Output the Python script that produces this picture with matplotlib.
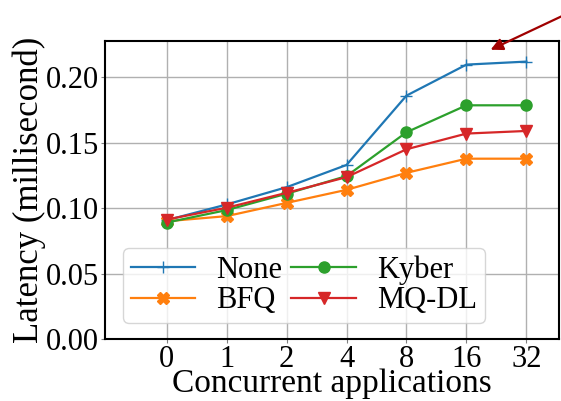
import matplotlib
matplotlib.use("Agg")
import matplotlib.pyplot as plt
import numpy as np

# concurrent applications (categorical x axis)
apps = ["0", "1", "2", "4", "8", "16", "32"]

# latency in milliseconds
lat_none = [0.0908, 0.1028, 0.1160, 0.1330, 0.1860, 0.2097, 0.2120]
lat_bfq = [0.0900, 0.0939, 0.1040, 0.1140, 0.1270, 0.1378, 0.1378]
lat_kyber = [0.0890, 0.0985, 0.1110, 0.1245, 0.1580, 0.1786, 0.1786]
lat_mqdl = [0.0913, 0.1003, 0.1117, 0.1237, 0.1450, 0.1570, 0.1590]

plt.rcParams['font.family'] = ['Liberation Serif', 'DejaVu Serif']
plt.rcParams['font.size'] = 22

fig = plt.figure(figsize=(5.61, 4.01), dpi=100)
ax = fig.add_axes([0.187, 0.1546, 0.809, 0.744])

x = np.arange(len(apps))
ax.plot(x, lat_none, color='tab:blue', marker='+', markersize=9, lw=1.6, label='None')
ax.plot(x, lat_bfq, color='tab:orange', marker='X', markersize=8, lw=1.6, label='BFQ')
ax.plot(x, lat_kyber, color='tab:green', marker='o', markersize=8, lw=1.6, label='Kyber')
ax.plot(x, lat_mqdl, color='tab:red', marker='v', markersize=8, lw=1.6, label='MQ-DL')

ax.set_xticks(x)
ax.set_xticklabels(apps)
ax.set_yticks([0.0, 0.05, 0.10, 0.15, 0.20])
ax.set_yticklabels(["0.00", "0.05", "0.10", "0.15", "0.20"])
ax.set_xlim(-1.03, 6.54)
ax.set_ylim(0, 0.228)
ax.grid(True, color='#b0b0b0', lw=1.0)
ax.set_axisbelow(True)
for s in ax.spines.values():
    s.set_linewidth(1.5)
ax.tick_params(axis='both', length=3, pad=1, color='#808080')

xl = ax.set_xlabel("Concurrent applications", fontsize=24)
xl.set_verticalalignment('baseline')
ax.xaxis.set_label_coords(0.5, -0.178)
ax.set_ylabel("Latency (millisecond)", fontsize=25, labelpad=0)

ax.legend(ncol=2, loc='lower left', bbox_to_anchor=(0.04, 0.054),
          fontsize=22, columnspacing=0.3, handletextpad=0.7,
          handlelength=2.1, labelspacing=0.05, borderpad=0.25,
          borderaxespad=0.0, frameon=True, framealpha=0.8)

# red arrow pointing into the top of the plot
fig.patches.append(matplotlib.patches.FancyArrowPatch(
    (1.005, 0.962), (0.870, 0.873), transform=fig.transFigure,
    arrowstyle='-|>', mutation_scale=18, color='#a00000', lw=1.6))

fig.savefig("out.png", dpi=100)
